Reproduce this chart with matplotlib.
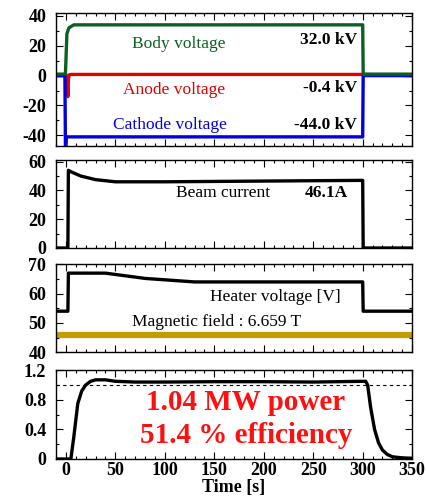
import matplotlib
matplotlib.use("Agg")
import matplotlib.pyplot as plt
from matplotlib.ticker import MultipleLocator

plt.rcParams['font.family'] = ['Liberation Serif', 'DejaVu Serif']
plt.rcParams['font.weight'] = 'bold'
plt.rcParams['axes.unicode_minus'] = False

# data
body_t = [-10, -0.5, 0, 1, 3, 8, 300, 300.5, 350]
body_v = [1, 1, 10, 28, 32, 34, 34, 1, 1]
anode_t = [-10, 0, 1, 2, 2.5, 3, 5, 300, 350]
anode_v = [0, 0, -1, -14, -3, 0.5, 0.8, 0.8, 0]
cath_t = [-10, -1, -0.5, 0, 0.5, 1.5, 300, 300.5, 350]
cath_v = [0, 0, -47, -47, -41, -41, -41, 0, 0]

beam_t = [-10, 2, 2.5, 5, 15, 30, 50, 100, 200, 300, 300.5, 350]
beam_i = [0, 0, 54, 53, 50, 47.5, 46, 46, 46.5, 47, 0, 0]

heat_t = [-10, 2, 2.5, 40, 80, 130, 300, 300.5, 350]
heat_v = [54, 54, 67, 67, 65.2, 64, 64, 54, 54]
mag_t = [-10, 350]
mag_v = [46, 46]

pow_t = [-10, 5, 8, 12, 16, 20, 25, 30, 40, 50, 70, 100, 150, 200, 250,
         300, 303, 305, 308, 312, 316, 320, 325, 330, 340, 350]
pow_p = [0, 0, 0.3, 0.75, 0.92, 1.0, 1.05, 1.07, 1.07, 1.05, 1.04, 1.04, 1.045,
         1.045, 1.04, 1.05, 1.05, 1.0, 0.7, 0.4, 0.22, 0.12, 0.06, 0.03, 0.015, 0.01]

fig = plt.figure(figsize=(4.26, 4.96), dpi=100)
L, W = 0.1315, 0.836
ax1 = fig.add_axes([L, 0.706, W, 0.268])
ax2 = fig.add_axes([L, 0.500, W, 0.177])
ax3 = fig.add_axes([L, 0.290, W, 0.177])
ax4 = fig.add_axes([L, 0.0746, W, 0.179])

for ax in [ax1, ax2, ax3, ax4]:
    ax.set_xlim(-10, 350)
    ax.xaxis.set_major_locator(MultipleLocator(50))
    ax.xaxis.set_minor_locator(MultipleLocator(10))
    ax.tick_params(which='both', direction='in', top=True, right=True,
                   labelsize=13, pad=7)
    ax.tick_params(which='major', length=5, width=0.8)
    ax.tick_params(which='minor', length=2.5, width=0.8)
    for s in ax.spines.values():
        s.set_linewidth(1.0)
    if ax is not ax4:
        ax.tick_params(labelbottom=False)

lw = 2.4
# voltages
ax1.plot(anode_t, anode_v, color='#e00000', lw=lw)
ax1.plot(cath_t, cath_v, color='#0000e0', lw=lw)
ax1.plot(body_t, body_v, color='#0a6020', lw=lw)
ax1.set_ylim(-47, 42)
ax1.yaxis.set_major_locator(MultipleLocator(20))
ax1.yaxis.set_minor_locator(MultipleLocator(10))
ax1.text(0.345, 0.767, 'Body voltage', transform=ax1.transAxes, color='#0a6020',
         fontsize=12.5, fontweight='normal', ha='center', va='center')
ax1.text(0.846, 0.797, '32.0 kV', transform=ax1.transAxes, color='black',
         fontsize=12.5, ha='right', va='center')
ax1.text(0.331, 0.42, 'Anode voltage', transform=ax1.transAxes, color='#e00000',
         fontsize=12.5, fontweight='normal', ha='center', va='center')
ax1.text(0.846, 0.436, '-0.4 kV', transform=ax1.transAxes, color='black',
         fontsize=12.5, ha='right', va='center')
ax1.text(0.32, 0.158, 'Cathode voltage', transform=ax1.transAxes, color='#0000e0',
         fontsize=12.5, fontweight='normal', ha='center', va='center')
ax1.text(0.846, 0.158, '-44.0 kV', transform=ax1.transAxes, color='black',
         fontsize=12.5, ha='right', va='center')

# beam current
ax2.plot(beam_t, beam_i, color='black', lw=lw)
ax2.set_ylim(0, 61)
ax2.yaxis.set_major_locator(MultipleLocator(20))
ax2.yaxis.set_minor_locator(MultipleLocator(10))
ax2.text(0.47, 0.625, 'Beam current', transform=ax2.transAxes, fontsize=12.5,
         fontweight='normal', ha='center', va='center')
ax2.text(0.758, 0.625, '46.1A', transform=ax2.transAxes, fontsize=12.5,
         ha='center', va='center')

# heater + magnetic field
ax3.plot(mag_t, mag_v, color='#c29c00', lw=4.5)
ax3.plot(heat_t, heat_v, color='black', lw=lw)
ax3.set_ylim(40, 70)
ax3.yaxis.set_major_locator(MultipleLocator(10))
ax3.yaxis.set_minor_locator(MultipleLocator(5))
ax3.text(0.615, 0.625, 'Heater voltage [V]', transform=ax3.transAxes,
         fontsize=12.5, fontweight='normal', ha='center', va='center')
ax3.text(0.452, 0.34, 'Magnetic field : 6.659 T', transform=ax3.transAxes,
         fontsize=12.5, fontweight='normal', ha='center', va='center')

# power
ax4.plot(pow_t, pow_p, color='black', lw=lw)
ax4.axhline(1.0, color='black', lw=0.8, ls=(0, (3, 3)))
ax4.set_ylim(0, 1.2)
ax4.yaxis.set_minor_locator(MultipleLocator(0.2))
ax4.set_yticks([0, 0.4, 0.8, 1.2])
ax4.set_yticklabels(['0', '0.4', '0.8', '1.2'])
ax4.text(0.533, 0.64, '1.04 MW power', transform=ax4.transAxes, color='#ff1010',
         fontsize=21, ha='center', va='center')
ax4.text(0.535, 0.27, '51.4 % efficiency', transform=ax4.transAxes, color='#ff1010',
         fontsize=21, ha='center', va='center')
ax4.tick_params(axis='x', pad=2)
ax4.set_xlabel('Time [s]', fontsize=13, fontweight='bold', labelpad=0)

fig.savefig('out.png', dpi=100)
